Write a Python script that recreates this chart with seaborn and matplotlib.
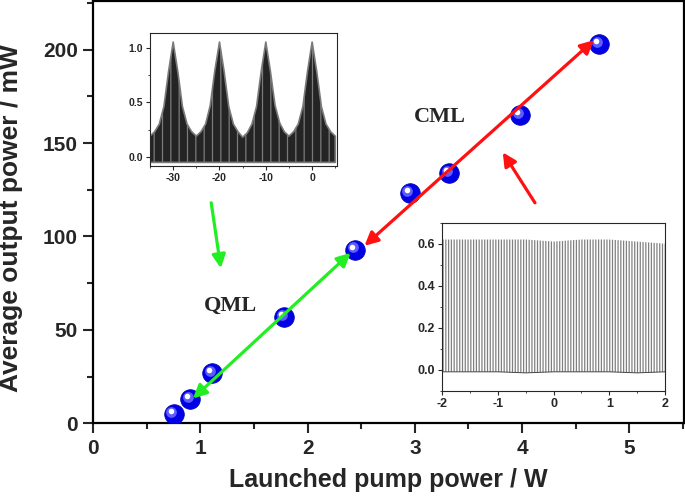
import matplotlib
matplotlib.use("Agg")
import numpy as np
import pandas as pd
import seaborn as sns
import matplotlib.pyplot as plt
from matplotlib.transforms import offset_copy
from matplotlib.ticker import MultipleLocator

# ---------------- data ----------------
pump_w = [0.75, 0.90, 1.11, 1.78, 2.44, 2.95, 3.32, 3.98, 4.72]
power_mw = [5, 13, 27, 57, 93, 123, 134, 165, 203]

x_ticks = [0, 1, 2, 3, 4, 5]
y_ticks = [0, 50, 100, 150, 200]

# regime annotations (start, end) in data units
qml_span = [(0.93, 13.3), (2.40, 91.2)]
cml_span = [(2.53, 95.0), (4.67, 205.0)]
qml_pointer = [(1.10, 118.0), (1.19, 83.0)]
cml_pointer = [(4.12, 118.0), (3.82, 145.0)]
qml_label_pos = (1.275, 63.0)
cml_label_pos = (3.23, 164.0)

# inset 1: autocorrelation envelope (QML)
ac_delay = [-35, -34, -33, -32, -31, -30, -29, -28, -27, -26, -25, -24, -23, -22,
            -21, -20, -19, -18, -17, -16, -15, -14, -13, -12, -11, -10, -9, -8,
            -7, -6, -5, -4, -3, -2, -1, 0, 1, 2, 3, 4, 5]
ac_upper = [0.19, 0.23, 0.30, 0.46, 0.78, 1.05, 0.78, 0.46, 0.30, 0.23, 0.19, 0.23,
            0.30, 0.47, 0.79, 1.05, 0.78, 0.46, 0.30, 0.23, 0.18, 0.22, 0.30, 0.46,
            0.78, 1.05, 0.78, 0.47, 0.31, 0.23, 0.19, 0.23, 0.30, 0.46, 0.78, 1.05,
            0.78, 0.46, 0.30, 0.23, 0.19]
ac_lower = [-0.05] * len(ac_delay)

# inset 2: CML pulse train envelope
pt_time = [-2.0, -1.5, -1.0, -0.5, 0.0, 0.5, 1.0, 1.5, 2.0]
pt_peak = [0.62, 0.62, 0.62, 0.62, 0.61, 0.62, 0.62, 0.61, 0.60]
pt_base = [-0.01, -0.01, -0.01, -0.015, -0.01, -0.01, -0.01, -0.015, -0.01]

# ---------------- style ----------------
sns.set_style("ticks")
plt.rcParams["font.family"] = ["Liberation Sans", "DejaVu Sans"]
plt.rcParams["font.weight"] = "bold"
plt.rcParams["axes.unicode_minus"] = False
plt.rcParams["hatch.linewidth"] = 0.9

fig = plt.figure(figsize=(6.85, 4.99), dpi=100)
ax = fig.add_axes([0.1362, 0.1517, 0.8623, 0.8463])

df = pd.DataFrame({"pump": pump_w, "power": power_mw})
sns.scatterplot(data=df, x="pump", y="power", ax=ax, s=200, color="#0000e6",
                edgecolor="#0000b0", linewidth=0.5, zorder=4, legend=False)
hl1 = offset_copy(ax.transData, fig=fig, x=-2.2, y=2.2, units="dots")
ax.scatter(pump_w, power_mw, s=60, color="#5c5cff", linewidths=0, zorder=5,
           transform=hl1)
hl2 = offset_copy(ax.transData, fig=fig, x=-3.0, y=3.0, units="dots")
ax.scatter(pump_w, power_mw, s=16, color="#ffffff", linewidths=0, zorder=6,
           transform=hl2)

def arrow(a, b, color, style):
    ax.annotate("", xy=b, xytext=a, xycoords="data", textcoords="data",
                arrowprops=dict(arrowstyle=style, color=color, lw=2.3,
                                mutation_scale=20, shrinkA=0, shrinkB=0),
                zorder=7)

arrow(qml_span[0], qml_span[1], "#22ee22", "<|-|>")
arrow(cml_span[0], cml_span[1], "#ff1111", "<|-|>")
arrow(qml_pointer[0], qml_pointer[1], "#22ee22", "-|>")
arrow(cml_pointer[0], cml_pointer[1], "#ff1111", "-|>")

ax.text(*qml_label_pos, "QML", fontsize=16, fontweight="bold",
        family="Liberation Serif", ha="center", va="center")
ax.text(*cml_label_pos, "CML", fontsize=16, fontweight="bold",
        family="Liberation Serif", ha="center", va="center")

ax.set_xlim(0, 5.51)
ax.set_ylim(0, 226)
ax.set_xticks(x_ticks)
ax.set_yticks(y_ticks)
ax.xaxis.set_minor_locator(MultipleLocator(0.5))
ax.yaxis.set_minor_locator(MultipleLocator(25))
ax.tick_params(which="major", direction="out", length=7, width=1.5,
               labelsize=15, pad=4)
ax.tick_params(which="minor", direction="out", length=4, width=1.5)
for sp in ax.spines.values():
    sp.set_visible(True)
    sp.set_linewidth(1.6)
    sp.set_color("black")
for lab in ax.get_xticklabels() + ax.get_yticklabels():
    lab.set_fontweight("bold")
ax.set_xlabel("Launched pump power / W", fontsize=18, fontweight="bold")
ax.set_ylabel("Average output power / mW", fontsize=19, fontweight="bold")
ax.xaxis.set_label_coords(0.5, -0.105)
ax.yaxis.set_label_coords(-0.119, 0.486)

# ---------------- inset 1 ----------------
ax1 = fig.add_axes([0.2190, 0.6680, 0.2725, 0.2653])
ax1.fill_between(ac_delay, ac_lower, ac_upper, facecolor="#242424",
                 edgecolor="#7a7a7a", hatch="||", linewidth=1.2)
ax1.set_xlim(-35, 5.3)
ax1.set_ylim(-0.08, 1.13)
ax1.set_xticks([-30, -20, -10, 0])
ax1.set_yticks([0.0, 0.5, 1.0])
ax1.xaxis.set_minor_locator(MultipleLocator(5))
ax1.yaxis.set_minor_locator(MultipleLocator(0.25))
ax1.tick_params(which="major", direction="out", length=3, width=0.8,
                labelsize=7.5, pad=2)
ax1.tick_params(which="minor", direction="out", length=1.5, width=0.6)
ax1.set_xticklabels(["-30", "-20", "-10", "0"])
ax1.set_yticklabels(["0.0", "0.5", "1.0"])
for lab in ax1.get_xticklabels() + ax1.get_yticklabels():
    lab.set_fontweight("bold")
for sp in ax1.spines.values():
    sp.set_visible(True)
    sp.set_linewidth(0.8)

# ---------------- inset 2 ----------------
ax2 = fig.add_axes([0.6457, 0.2170, 0.3251, 0.3367])
ax2.fill_between(pt_time, pt_base, pt_peak, facecolor="white",
                 edgecolor="#808080", hatch="||||||", linewidth=0)
ax2.plot(pt_time, pt_base, color="#444444", lw=0.7)
ax2.set_xlim(-2, 2)
ax2.set_ylim(-0.1, 0.7)
ax2.set_xticks([-2, -1, 0, 1, 2])
ax2.set_yticks([0.0, 0.2, 0.4, 0.6])
ax2.xaxis.set_minor_locator(MultipleLocator(0.5))
ax2.yaxis.set_minor_locator(MultipleLocator(0.1))
ax2.tick_params(which="major", direction="out", length=3, width=0.8,
                labelsize=9, pad=2)
ax2.tick_params(which="minor", direction="out", length=1.5, width=0.6)
ax2.set_xticklabels(["-2", "-1", "0", "1", "2"])
ax2.set_yticklabels(["0.0", "0.2", "0.4", "0.6"])
for lab in ax2.get_xticklabels() + ax2.get_yticklabels():
    lab.set_fontweight("bold")
for sp in ax2.spines.values():
    sp.set_visible(True)
    sp.set_linewidth(0.8)

fig.savefig("out.png", dpi=100)
